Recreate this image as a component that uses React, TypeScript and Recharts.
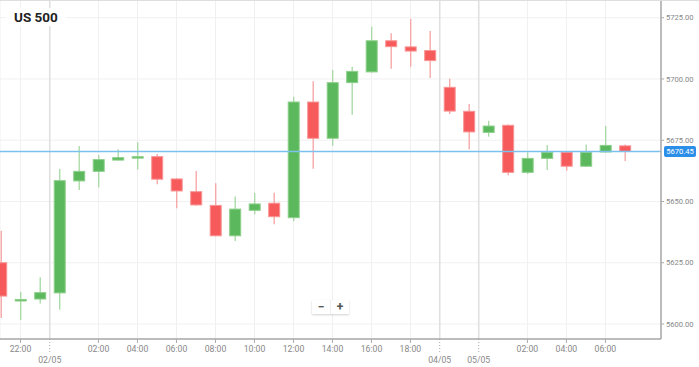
import React from "react"
import { ComposedChart, Bar, XAxis, YAxis, CartesianGrid, ReferenceLine } from "recharts"

// hourly candles, 01/05 21:00 -> 05/05 07:00 (weekend gap after 02/05 19:00)
const opens = [5625.0, 5609.6, 5610.2, 5612.7, 5658.4, 5662.3, 5666.9, 5667.9, 5668.3, 5659.2, 5654.0, 5648.4, 5636.0, 5646.4, 5649.3, 5643.4, 5690.6, 5675.8, 5698.5, 5702.9, 5715.6, 5713.1, 5711.6, 5696.6, 5686.8, 5678.2, 5681.1, 5661.9, 5667.6, 5670.1, 5664.4, 5670.2, 5672.7]
const highs = [5638.1, 5613.1, 5619.1, 5663.3, 5672.7, 5669.0, 5671.3, 5674.2, 5669.4, 5659.5, 5662.4, 5657.4, 5652.0, 5653.6, 5653.6, 5692.8, 5699.1, 5703.7, 5705.0, 5721.3, 5718.7, 5724.6, 5719.6, 5700.1, 5689.8, 5683.0, 5681.4, 5670.1, 5673.1, 5670.3, 5673.3, 5680.8, 5673.3]
const lows = [5602.4, 5601.6, 5608.4, 5605.8, 5654.7, 5655.8, 5666.7, 5663.1, 5657.0, 5647.2, 5648.3, 5635.8, 5633.9, 5644.8, 5640.7, 5641.9, 5663.4, 5672.8, 5685.4, 5702.6, 5704.2, 5705.0, 5700.4, 5685.7, 5671.3, 5676.4, 5660.7, 5661.2, 5662.9, 5662.6, 5664.2, 5670.0, 5666.5]
const closes = [5611.4, 5610.0, 5612.8, 5658.5, 5662.3, 5667.1, 5667.9, 5668.3, 5659.1, 5654.3, 5648.6, 5636.0, 5646.9, 5649.0, 5643.8, 5690.6, 5675.8, 5698.5, 5703.1, 5715.6, 5713.2, 5711.4, 5707.5, 5686.9, 5678.4, 5680.8, 5661.9, 5667.6, 5670.1, 5664.4, 5670.1, 5672.9, 5670.45]

const timeTickIdx = [1, 5, 7, 9, 11, 13, 15, 17, 19, 21, 27, 29, 31]
const timeTickLabels = ["22:00", "02:00", "04:00", "06:00", "08:00", "10:00", "12:00", "14:00", "16:00", "18:00", "02:00", "04:00", "06:00"]
const dayTickIdx = [2.5, 22.5, 24.5]
const dayTickLabels = ["02/05", "04/05", "05/05"]

const priceTicks = [5600, 5625, 5650, 5675, 5700, 5725]
const lastPrice = 5670.45

const data = opens.map((o, i) => ({ i, open: o, high: highs[i], low: lows[i], close: closes[i] }))

const UP = { body: "#5cb85c", edge: "#8ccf8a", wick: "#a5d8a3" }
const DOWN = { body: "#f65a5a", edge: "#f89494", wick: "#f6a2a2" }

const Candle = (props: any) => {
  const { x, y, width, height, payload } = props
  if (x == null || y == null) return null
  const top = Math.min(y, y + height)
  const bottom = Math.max(y, y + height)
  const { open, close, high, low } = payload
  const k = (bottom - top) / (high - low)
  const oy = bottom - (open - low) * k
  const cy = bottom - (close - low) * k
  const c = close >= open ? UP : DOWN
  const bt = Math.min(oy, cy)
  const bh = Math.max(Math.abs(oy - cy), 1.5)
  const mid = x + width / 2
  return (
    <g>
      <line x1={mid} x2={mid} y1={top} y2={bottom} stroke={c.wick} strokeWidth={1.3} />
      <rect x={x + 0.5} y={bt} width={width - 1} height={bh} fill={c.body} stroke={c.edge} strokeWidth={1} />
    </g>
  )
}

const AxisTick = (props: any) => {
  const { x, y, payload } = props
  const d = dayTickIdx.indexOf(payload.value)
  if (d >= 0) {
    return (
      <g>
        <line x1={x} x2={x} y1={y} y2={y + 13} stroke="#aaa" strokeDasharray="1 2" />
        <text x={x} y={y + 24} textAnchor="middle" fontSize={8.7} fill="#888" fontFamily="Roboto">
          {dayTickLabels[d]}
        </text>
      </g>
    )
  }
  const t = timeTickIdx.indexOf(payload.value)
  return (
    <g>
      <line x1={x} x2={x} y1={y} y2={y + 4} stroke="#aaa" />
      <text x={x} y={y + 12.5} textAnchor="middle" fontSize={8.7} fill="#888" fontFamily="Roboto">
        {t >= 0 ? timeTickLabels[t] : ""}
      </text>
    </g>
  )
}

const PriceTag = (props: any) => {
  const { viewBox } = props
  if (!viewBox) return null
  const x = viewBox.x + viewBox.width + 3
  const y = viewBox.y
  return (
    <g>
      <rect x={x} y={y - 5.5} width={32} height={11} rx={2} fill="#2b8ee8" />
      <text x={x + 16} y={y + 2.7} textAnchor="middle" fontSize={7.6} fill="#fff" fontFamily="Roboto">
        {lastPrice.toFixed(2)}
      </text>
    </g>
  )
}

export default function App() {
  return (
    <div style={{ position: "absolute", left: 0, top: 0, width: 699, height: 367, background: "#fff", fontFamily: "Roboto" }}>
      <ComposedChart width={699} height={367} data={data} margin={{ top: 0, right: 0, left: 0, bottom: 0 }}>
        <CartesianGrid stroke="#f0f0f0" />
        <XAxis
          dataKey="i"
          type="number"
          domain={[-0.05, 33.85]}
          allowDataOverflow
          ticks={[...timeTickIdx, ...dayTickIdx].sort((a, b) => a - b)}
          interval={0}
          height={28}
          tickSize={0}
          tickMargin={0}
          tickLine={false}
          axisLine={{ stroke: "#a8a8a8", strokeWidth: 1.5 }}
          tick={<AxisTick />}
        />
        <YAxis
          orientation="right"
          type="number"
          domain={[5593.88, 5732.24]}
          allowDataOverflow
          ticks={priceTicks}
          width={38}
          tickSize={3}
          tickMargin={2}
          tickLine={{ stroke: "#aaa" }}
          axisLine={{ stroke: "#a8a8a8", strokeWidth: 1.5 }}
          tick={{ fontSize: 7.6, fill: "#888", fontFamily: "Roboto" }}
          tickFormatter={(v: number) => v.toFixed(2)}
        />
        {dayTickIdx.map((d) => (
          <ReferenceLine key={d} x={d} stroke="#e0e0e0" strokeWidth={1.5} />
        ))}
        <Bar dataKey={(d: any) => [d.low, d.high]} barSize={12} shape={<Candle />} isAnimationActive={false} />
        <ReferenceLine y={lastPrice} stroke="#7cc1ee" strokeWidth={1.5} label={<PriceTag />} />
      </ComposedChart>
      <div style={{ position: "absolute", left: 0, top: 0, width: 699, height: 1, background: "#dedede" }} />
      <div
        style={{
          position: "absolute",
          left: 6,
          top: 8,
          padding: "0 8px",
          background: "#fff",
          fontSize: 13.5,
          fontWeight: 700,
          color: "#222",
          lineHeight: "18px",
        }}
      >
        US 500
      </div>
      <div
        style={{
          position: "absolute",
          left: 312,
          top: 300,
          width: 37,
          height: 14,
          display: "flex",
          background: "#fff",
          boxShadow: "0 1px 2px rgba(0,0,0,0.18)",
          fontSize: 12,
          fontWeight: 700,
          color: "#555",
          lineHeight: "14px",
        }}
      >
        <div style={{ flex: 1, textAlign: "center", borderRight: "1px solid #eee" }}>−</div>
        <div style={{ flex: 1, textAlign: "center" }}>+</div>
      </div>
    </div>
  )
}
